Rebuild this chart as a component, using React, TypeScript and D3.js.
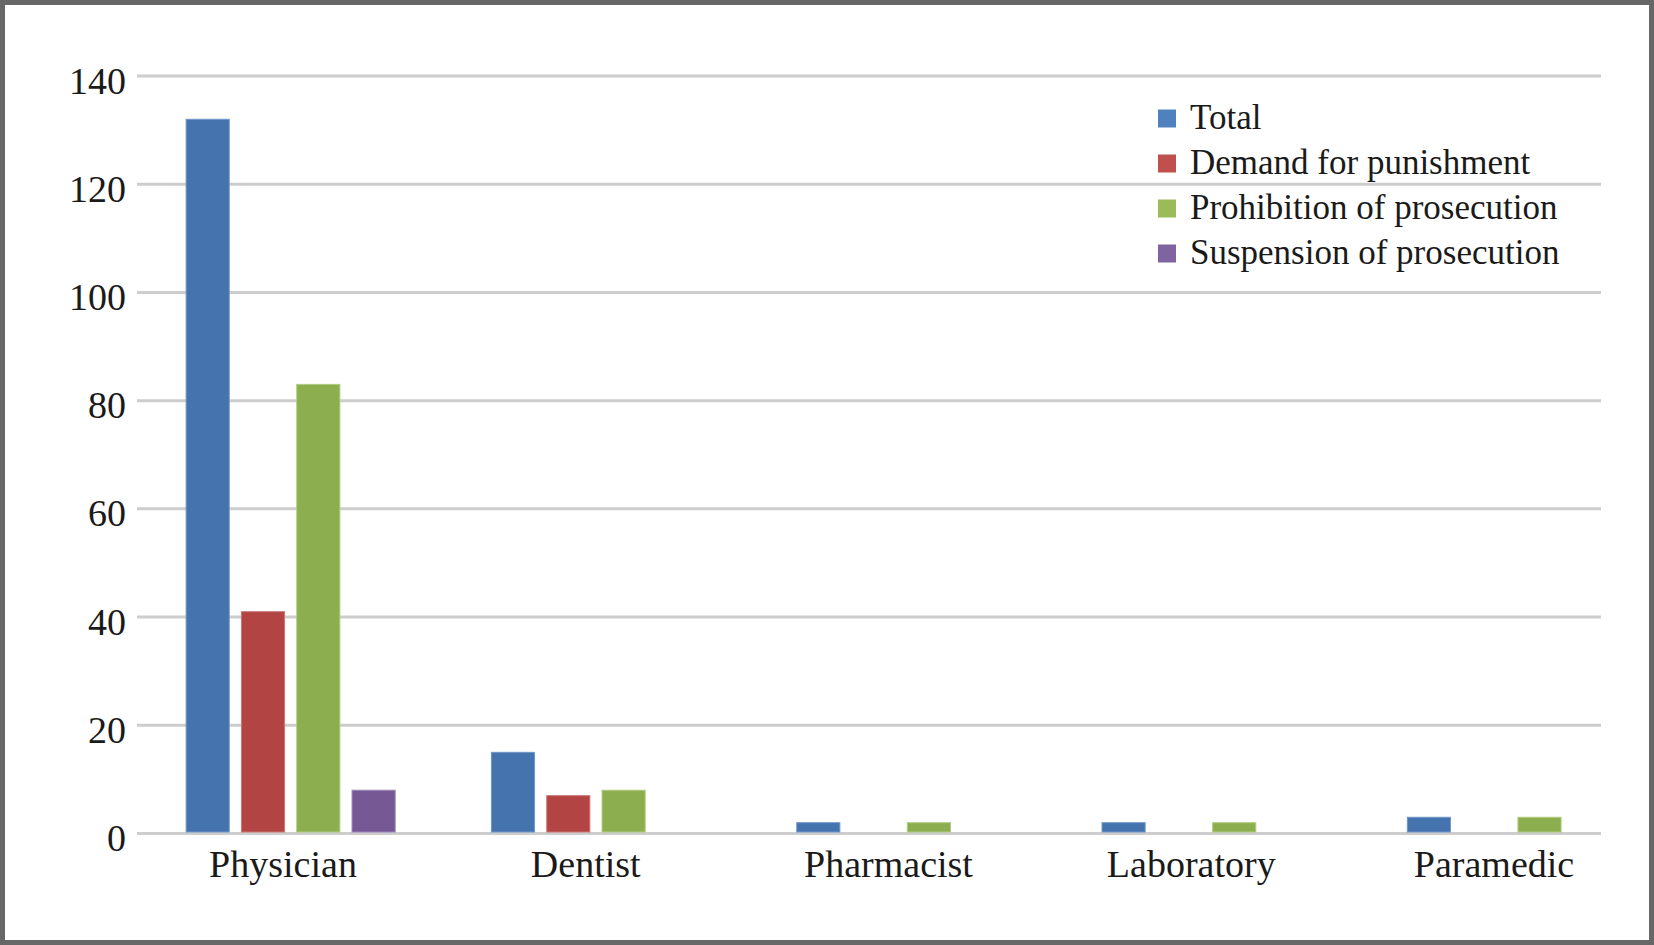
import React from 'react';
import { scaleBand, scaleLinear, scalePoint } from 'd3';

const categories = ['Physician', 'Dentist', 'Pharmacist', 'Laboratory', 'Paramedic'];
const seriesNames = [
  'Total',
  'Demand for punishment',
  'Prohibition of prosecution',
  'Suspension of prosecution',
];
const total = [132, 15, 2, 2, 3];
const demand = [41, 7, 0, 0, 0];
const prohibition = [83, 8, 2, 2, 3];
const suspension = [8, 0, 0, 0, 0];
const yTicks = [0, 20, 40, 60, 80, 100, 120, 140];

const seriesValues = [total, demand, prohibition, suspension];
const barFill = ['#4573ae', '#b24544', '#8dae4e', '#765895'];
const barStroke = ['#7197c9', '#cd7876', '#b0cc7f', '#9c86b8'];
const legendFill = ['#4f81bd', '#c0504d', '#9bbb59', '#8064a2'];

const W = 1654;
const H = 945;
const FONT = '"Liberation Serif", "Times New Roman", serif';

const App = () => {
  const left = 137;
  const gridRight = 1601;
  const step = 305.3;

  // bar groups
  const x0 = scaleBand<string>()
    .domain(categories)
    .range([left + 1, left + 1 + step * categories.length]);
  const x1 = scaleBand<string>()
    .domain(seriesNames)
    .range([0, x0.bandwidth()])
    .paddingInner(0.22)
    .paddingOuter(0.87);
  // category labels sit on a slightly different spacing than the groups
  const xLabel = scalePoint<string>().domain(categories).range([283, 1494]);
  const y = scaleLinear().domain([0, 140]).range([833.5, 76]);

  return (
    <svg
      width={W}
      height={H}
      style={{ position: 'absolute', left: 0, top: 0, display: 'block' }}
      fontFamily={FONT}
    >
      <rect x={0} y={0} width={W} height={H} fill="#ffffff" />
      <rect x={2.5} y={2.5} width={W - 5} height={H - 5} fill="none" stroke="#676767" strokeWidth={5} />

      {/* grid + y labels */}
      {yTicks.map((t) => (
        <g key={t}>
          <line x1={left} x2={gridRight} y1={y(t)} y2={y(t)} stroke="#cdcdcd" strokeWidth={3} />
          <text x={126} y={y(t) + 17.5} textAnchor="end" fontSize={38} fill="#1a1a1a">
            {t}
          </text>
        </g>
      ))}

      {/* bars */}
      {categories.map((c, i) => (
        <g key={c} transform={`translate(${x0(c)},0)`}>
          {seriesNames.map((s, j) => {
            const v = seriesValues[j][i];
            if (!v) return null;
            return (
              <rect
                key={s}
                x={x1(s)}
                y={y(v)}
                width={x1.bandwidth()}
                height={y(0) - y(v) - 1.5}
                fill={barFill[j]}
                stroke={barStroke[j]}
                strokeWidth={1}
              />
            );
          })}
        </g>
      ))}

      {categories.map((c) => (
        <text
          key={c}
          x={xLabel(c)}
          y={y(0) + 43}
          textAnchor="middle"
          fontSize={38}
          fill="#1a1a1a"
        >
          {c}
        </text>
      ))}

      {/* legend */}
      {seriesNames.map((s, j) => {
        const cy = 118.5 + j * 45;
        return (
          <g key={s}>
            <rect x={1158} y={cy - 9} width={18} height={18} fill={legendFill[j]} />
            <text x={1190} y={cy + 10} fontSize={35} fill="#1a1a1a">
              {s}
            </text>
          </g>
        );
      })}
    </svg>
  );
};

export default App;
